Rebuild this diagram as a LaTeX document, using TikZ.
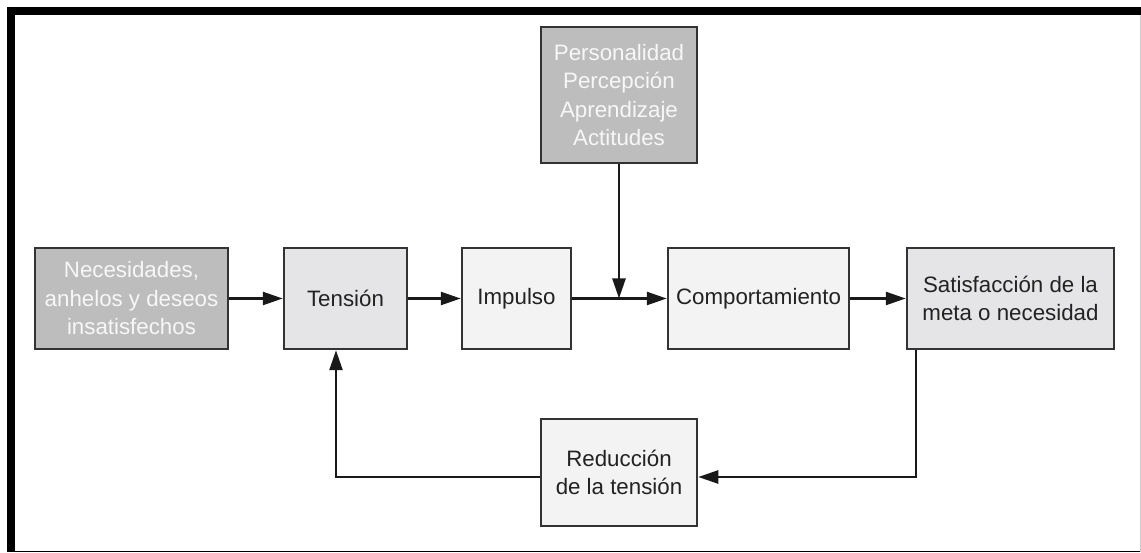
\documentclass[tikz,border=0pt]{standalone}
\usepackage{fontspec}
\setmainfont{Liberation Sans}
\usetikzlibrary{arrows.meta}
\definecolor{boxline}{HTML}{333333}
\definecolor{darkfill}{HTML}{BDBDBD}
\definecolor{midfill}{HTML}{E5E5E7}
\definecolor{lightfill}{HTML}{F3F3F3}
\definecolor{darktext}{HTML}{222222}
\definecolor{whitetext}{HTML}{F7F7F7}
\tikzset{
  base/.style={draw=boxline, line width=2.5pt, rectangle, inner sep=0pt, align=center,
    font=\fontsize{22.3}{28.5}\selectfont},
  darkbox/.style={base, fill=darkfill, text=whitetext},
  midbox/.style={base, fill=midfill, text=darktext},
  lightbox/.style={base, fill=lightfill, text=darktext},
  arr/.style={draw=black!90, line width=2.5pt, -{Triangle[length=20pt,width=13pt]}},
  ln/.style={draw=black!90, line width=2.5pt}
}
\begin{document}
\begin{tikzpicture}[x=1pt,y=-1pt]
\useasboundingbox (0,0) rectangle (1141,553);
% frame
\fill[black] (7,7) rectangle (1141,15);
\fill[black] (7,7) rectangle (15,552);
\draw[black, line width=1.2pt] (7,551.5) -- (1141,551.5);
\draw[black!20, line width=1.2pt] (1140.3,15) -- (1140.3,552);
% nodes
\node[darkbox, minimum width=193pt, minimum height=101pt] (nec) at (131.5,298.5) {Necesidades,\\anhelos y deseos\\insatisfechos};
\node[midbox, minimum width=123pt, minimum height=101pt] (ten) at (345.5,298.5) {Tensión};
\node[lightbox, minimum width=109pt, minimum height=101pt] (imp) at (516.5,298.5) {Impulso};
\node[lightbox, minimum width=181pt, minimum height=101pt] (com) at (758.5,298.5) {Comportamiento};
\node[midbox, minimum width=207pt, minimum height=101pt] (sat) at (1010.5,298.5) {Satisfacción de la\\meta o necesidad};
\node[darkbox, minimum width=156pt, minimum height=136pt] (per) at (619,95) {Personalidad\\Percepción\\Aprendizaje\\Actitudes};
\node[lightbox, minimum width=156pt, minimum height=107pt] (red) at (619,472.5) {Reducción\\de la tensión};
% helper coordinates
\coordinate (join) at (619,298.5);
\coordinate (fbr) at (916,477);
\coordinate (fbl) at (336,477);
% connectors
\draw[arr] (nec) -- (ten);
\draw[arr] (ten) -- (imp);
\draw[arr] (imp) -- (com);
\draw[arr] (com) -- (sat);
\draw[arr] (per) -- (join);
\draw[arr] (sat.south -| fbr) -- (fbr) -- (red.east |- fbr);
\draw[arr] (red.west |- fbl) -- (fbl) -- (ten.south -| fbl);
\end{tikzpicture}
\end{document}
